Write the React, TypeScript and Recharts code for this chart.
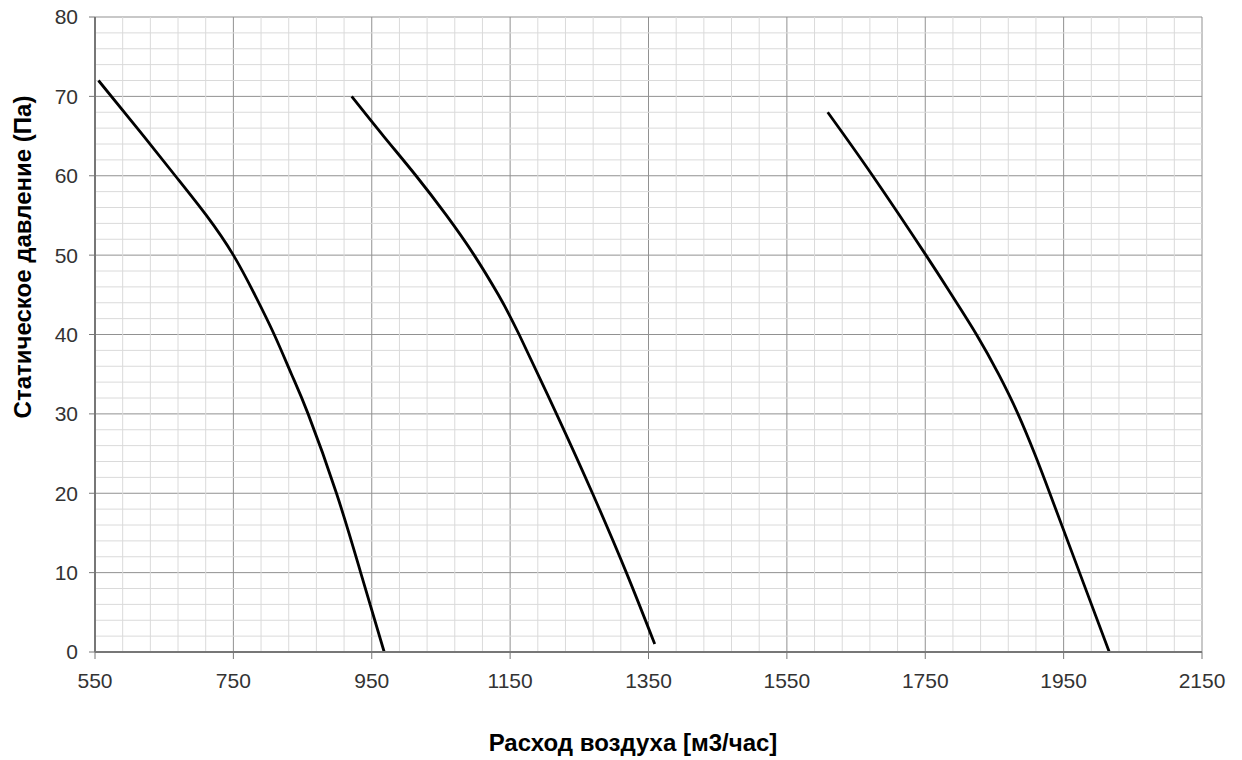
import * as React from 'react';
import { LineChart, Line, XAxis, YAxis, CartesianGrid, ReferenceLine } from 'recharts';

// расход воздуха (м3/час) и статическое давление (Па) по трём кривым
const flow1 = [555, 611, 666, 711, 750, 781, 809, 834, 858, 899, 934, 968];
const press1 = [72, 66, 60, 55, 50, 45, 40, 35, 30, 20, 10, 0];

const flow2 = [921, 967, 1014, 1058, 1098, 1133, 1163, 1217, 1269, 1318, 1359];
const press2 = [70, 65, 60, 55, 50, 45, 40, 30, 20, 10, 1];

const flow3 = [1609, 1674, 1751, 1788, 1824, 1856, 1884, 1908, 1930, 1973, 2016];
const press3 = [68, 60, 50, 45, 40, 35, 30, 25, 20, 10, 0];

const xTicks = [550, 750, 950, 1150, 1350, 1550, 1750, 1950, 2150];
const yTicks = [0, 10, 20, 30, 40, 50, 60, 70, 80];

// мелкая сетка: 5 делений между крупными
const xMinor: number[] = [];
for (let i = 0; i < xTicks.length - 1; i++) {
  for (let k = 1; k < 5; k++) xMinor.push(xTicks[i] + k * 40);
}
const yMinor: number[] = [];
for (let i = 0; i < yTicks.length - 1; i++) {
  for (let k = 1; k < 5; k++) yMinor.push(yTicks[i] + k * 2);
}

const toRows = (q: number[], p: number[]) => q.map((v, i) => ({ q: v, p: p[i] }));
const curves = [toRows(flow1, press1), toRows(flow2, press2), toRows(flow3, press3)];

const tickStyle = { fontSize: 21, fill: '#333', fontFamily: 'Liberation Sans, Arial, sans-serif' };
const titleFont = 'Liberation Sans, Arial, sans-serif';

export default function App() {
  return (
    <div style={{ position: 'absolute', left: 0, top: 0, background: '#fff' }}>
      <LineChart width={1242} height={760} margin={{ top: 17, right: 40, left: 35, bottom: 48 }}>
        <CartesianGrid stroke="#919191" strokeWidth={1} />
        {xMinor.map((v) => (
          <ReferenceLine key={'x' + v} x={v} stroke="#dadada" strokeWidth={1} />
        ))}
        {yMinor.map((v) => (
          <ReferenceLine key={'y' + v} y={v} stroke="#dadada" strokeWidth={1} />
        ))}
        <XAxis
          dataKey="q"
          type="number"
          domain={[550, 2150]}
          ticks={xTicks}
          interval={0}
          allowDuplicatedCategory={false}
          height={60}
          tick={tickStyle}
          tickSize={7}
          tickMargin={14}
          stroke="#777"
          axisLine={{ stroke: '#777', strokeWidth: 2 }}
          label={{
            content: () => (
              <text x={633} y={745} textAnchor="middle" dominantBaseline="middle"
                fontFamily={titleFont} fontWeight="bold" fontSize={24} fill="#000">
                Расход воздуха [м3/час]
              </text>
            ),
          }}
        />
        <YAxis
          type="number"
          domain={[0, 80]}
          ticks={yTicks}
          interval={0}
          width={60}
          tick={tickStyle}
          tickSize={6}
          tickMargin={11}
          stroke="#777"
          axisLine={{ stroke: '#777', strokeWidth: 2 }}
          label={{
            content: () => (
              <text x={25} y={257} textAnchor="middle" dominantBaseline="middle"
                transform="rotate(-90 25 257)"
                fontFamily={titleFont} fontWeight="bold" fontSize={24} fill="#000">
                Статическое давление (Па)
              </text>
            ),
          }}
        />
        {curves.map((d, i) => (
          <Line
            key={i}
            data={d}
            dataKey="p"
            type="natural"
            stroke="#000"
            strokeWidth={2.8}
            dot={false}
            activeDot={false}
            isAnimationActive={false}
          />
        ))}
      </LineChart>
    </div>
  );
}
